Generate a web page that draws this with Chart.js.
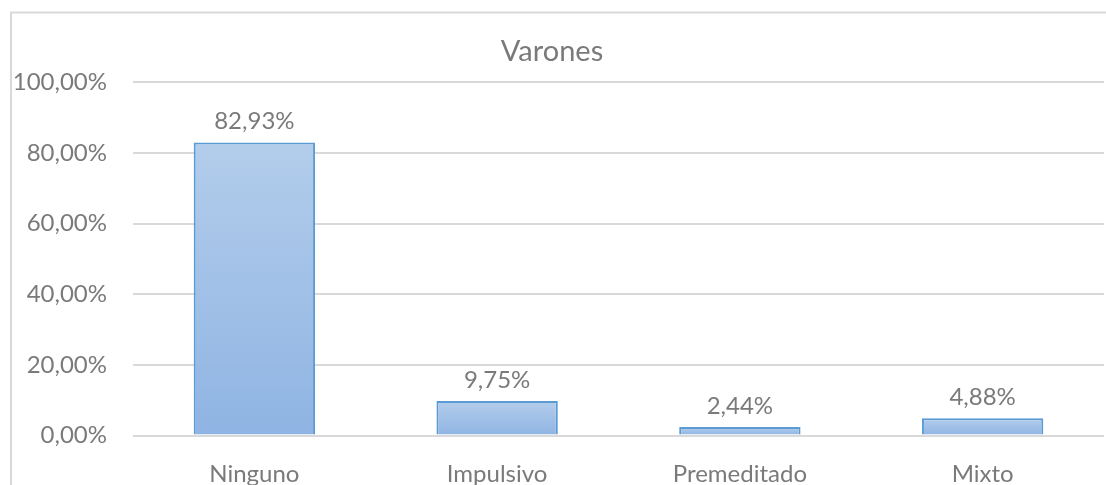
<!DOCTYPE html>
<html>
<head>
<meta charset="utf-8">
<script src="https://cdn.jsdelivr.net/npm/chart.js@4/dist/chart.umd.min.js"></script>
<style>
  html, body { margin: 0; padding: 0; background: #fff; }
  #wrap { width: 1106px; height: 485px; position: relative; }
</style>
</head>
<body>
<div id="wrap"><canvas id="chart"></canvas></div>
<script>
// Data
const categories = ['Ninguno', 'Impulsivo', 'Premeditado', 'Mixto'];
const values = [82.93, 9.75, 2.44, 4.88];
const yTicks = [0, 20, 40, 60, 80, 100];
const chartTitle = 'Varones';

const FONT = 'Lato, "Open Sans", sans-serif';
const TEXT = '#7a7a7a';

function pct(v) {
    return v.toFixed(2).replace('.', ',') + '%';
}

// Light-to-dark gradient per bar, like the spreadsheet style
function barFill(ctx) {
    const chart = ctx.chart;
    const y = chart.scales && chart.scales.y;
    if (!y || ctx.dataIndex === undefined) return '#a2c0e6';
    const top = y.getPixelForValue(values[ctx.dataIndex]);
    const base = y.getPixelForValue(0);
    if (!isFinite(top) || !isFinite(base) || base - top < 1) return '#a2c0e6';
    const g = chart.ctx.createLinearGradient(0, top, 0, base);
    g.addColorStop(0, '#b3cdeb');
    g.addColorStop(1, '#8fb4e3');
    return g;
}

// Outer frame lines (top and left edges of the chart box)
const frame = {
    id: 'frame',
    beforeDraw(chart) {
        const c = chart.ctx;
        c.save();
        c.strokeStyle = '#d9d9d9';
        c.lineWidth = 2;
        c.beginPath();
        c.moveTo(11, chart.height);
        c.lineTo(11, 12.5);
        c.lineTo(chart.width, 12.5);
        c.stroke();
        c.restore();
    }
};

// Value labels above the bars
const valueLabels = {
    id: 'valueLabels',
    afterDatasetsDraw(chart) {
        const c = chart.ctx;
        const meta = chart.getDatasetMeta(0);
        c.save();
        c.font = '24px ' + FONT;
        c.fillStyle = TEXT;
        c.textAlign = 'center';
        c.textBaseline = 'middle';
        meta.data.forEach((bar, i) => {
            c.fillText(pct(values[i]), bar.x, bar.y - 21);
        });
        c.restore();
    }
};

new Chart(document.getElementById('chart'), {
    type: 'bar',
    data: {
        labels: categories,
        datasets: [{
            data: values,
            backgroundColor: barFill,
            borderColor: '#5b9bd5',
            borderWidth: 2,
            barPercentage: 0.5,
            categoryPercentage: 1
        }]
    },
    options: {
        responsive: true,
        maintainAspectRatio: false,
        animation: false,
        layout: { padding: { left: 0, right: 2, top: 0, bottom: 0 } },
        plugins: {
            legend: { display: false },
            tooltip: { enabled: false },
            title: {
                display: true,
                text: chartTitle,
                color: TEXT,
                font: { family: FONT, size: 29, weight: 'normal', lineHeight: 1.2 },
                padding: { top: 34, bottom: 13.5 }
            }
        },
        scales: {
            y: {
                min: 0,
                max: 100,
                afterBuildTicks(scale) {
                    scale.ticks = yTicks.map(v => ({ value: v }));
                },
                afterFit(scale) { scale.width = 133; },
                border: { display: false },
                grid: { color: '#d9d9d9', lineWidth: 2, drawTicks: false },
                ticks: {
                    padding: 26,
                    color: TEXT,
                    font: { family: FONT, size: 24 },
                    callback: v => pct(v)
                }
            },
            x: {
                afterFit(scale) { scale.height = 49.5; },
                border: { display: false },
                grid: { display: false, drawTicks: false },
                ticks: {
                    padding: 24,
                    color: TEXT,
                    font: { family: FONT, size: 24 },
                    maxRotation: 0
                }
            }
        }
    },
    plugins: [frame, valueLabels]
});
</script>
</body>
</html>
